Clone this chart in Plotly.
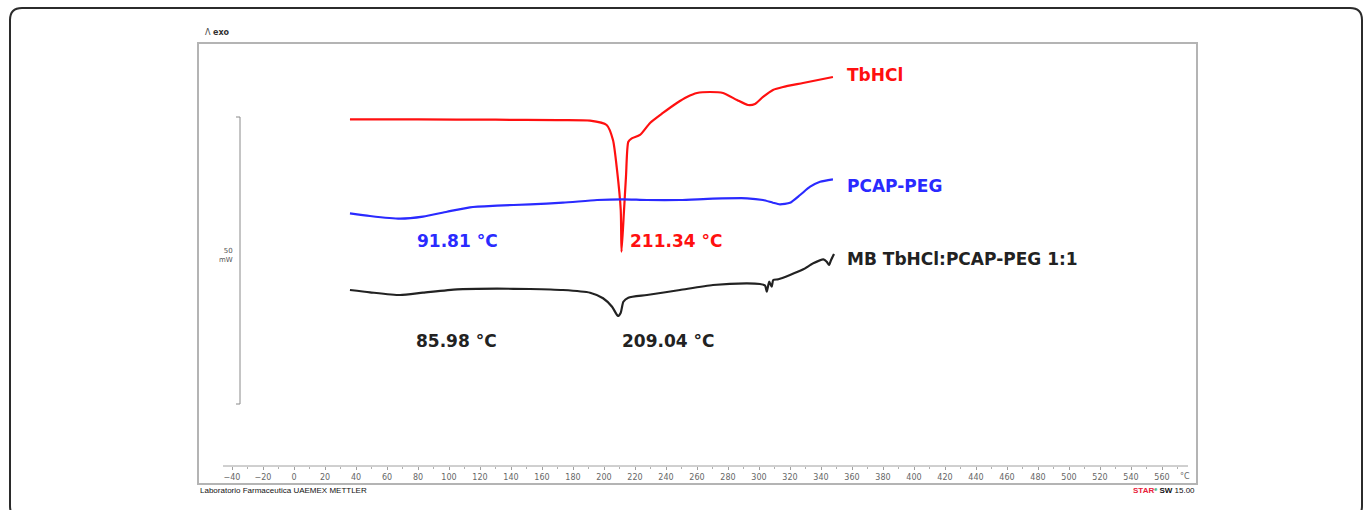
import plotly.graph_objects as go

# ---- DSC traces (temperature in °C, heat flow in mW, curves offset vertically) ----
tbhcl_T = [36.1, 80, 130, 170, 191, 201.7, 205.8, 208.4, 210.8, 211.3, 212.8, 214.2, 215.7,
           217.9, 223.2, 229.7, 238, 247, 253.5, 260, 268.4, 276.8, 285.8, 292.9, 297.4,
           302.6, 309, 315.5, 328.4, 347.7]
tbhcl_mW = [60.40, 60.38, 60.33, 60.25, 60.16, 59.41, 56.79, 51.57, 44.6, 37.33, 44.0, 50.5, 56.50,
            57.09, 57.67, 59.76, 61.50, 63.24, 64.29, 64.98, 65.16, 64.98, 63.76, 62.89, 63.07,
            64.29, 65.51, 66.03, 66.72, 67.77]

pcap_T = [36.1, 49.0, 68.4, 83.2, 98.7, 113.5, 131, 152.3, 173.5, 195.5, 212.3, 227.7, 249,
          270.3, 292.3, 302.6, 309, 313.5, 320, 326.5, 333, 339.4, 347.7]
pcap_mW = [44.02, 43.55, 43.08, 43.43, 44.30, 45.07, 45.35, 45.59, 45.87, 46.34, 46.46, 46.34, 46.34,
           46.57, 46.64, 46.34, 45.87, 45.59, 45.87, 47.21, 48.66, 49.53, 49.95]

mb_T = [36.1, 49.0, 68.4, 83.2, 105.2, 131, 152.3, 173.5, 191, 199.4, 205.2, 209.0, 210.8,
        212.5, 215.7, 227.7, 249, 270.3, 292.3, 300.6, 303.9, 305, 306, 306.6, 308.2, 309.2,
        312.5, 320, 328.6, 335, 341.5, 343.7, 345.2, 346.5, 348.4]
mb_mW = [30.66, 30.26, 29.79, 30.19, 30.78, 30.89, 30.84, 30.66, 30.19, 29.22, 27.75, 26.13, 26.71,
         28.62, 29.32, 29.79, 30.66, 31.53, 31.83, 31.71, 31.45, 30.37, 31.53, 32.11, 31.24, 32.40,
         32.53, 33.28, 34.27, 35.31, 36.01, 35.59, 35.02, 35.89, 36.93]

series_names = ["TbHCl", "PCAP-PEG", "MB TbHCl:PCAP-PEG 1:1"]
series_colors = ["#ff1010", "#2a2aff", "#222222"]

# peak temperature labels
peak_labels = ["91.81 °C", "211.34 °C", "85.98 °C", "209.04 °C"]

temp_ticks = [-40, -20, 0, 20, 40, 60, 80, 100, 120, 140, 160, 180, 200, 220, 240, 260, 280,
              300, 320, 340, 360, 380, 400, 420, 440, 460, 480, 500, 520, 540, 560]

# ---- page geometry (pixels) ----
W, H = 1372, 510
L, R, T, B = 198, 1197, 43, 466


def pxx(x):
    return (x - L) / (R - L)


def pxy(y):
    return (B - y) / (B - T)


fig = go.Figure()
for Tv, Y, name, col in zip([tbhcl_T, pcap_T, mb_T], [tbhcl_mW, pcap_mW, mb_mW],
                            series_names, series_colors):
    fig.add_trace(go.Scatter(x=Tv, y=Y, mode="lines", name=name,
                             line=dict(color=col, width=2.2, shape="spline", smoothing=0.6),
                             showlegend=False, hoverinfo="skip"))

bold = dict(family="DejaVu Sans", size=17)

# curve names at the right end of each trace
for name, col, ypx in zip(series_names, series_colors, [75, 186, 259]):
    fig.add_annotation(x=pxx(845), y=pxy(ypx), xref="paper", yref="paper",
                       text=f"<b>{name}</b>", showarrow=False, xanchor="left",
                       yanchor="middle", font=dict(color=col, **bold))

# peak temperatures
label_pos = [(457, 241, 1), (676, 241, 0), (456, 341, 2), (668, 341, 2)]
for txt, (xp, yp, ci) in zip(peak_labels, label_pos):
    fig.add_annotation(x=pxx(xp), y=pxy(yp), xref="paper", yref="paper",
                       text=f"<b>{txt}</b>", showarrow=False, xanchor="center",
                       yanchor="middle", font=dict(color=series_colors[ci], **bold))

small = dict(family="DejaVu Sans", size=8, color="#666666")

# outer rounded frame
r = 12
x0, y0, x1, y1 = 10, 8, 1362, 518
path = (f"M {pxx(x0 + r)},{pxy(y0)} L {pxx(x1 - r)},{pxy(y0)} "
        f"Q {pxx(x1)},{pxy(y0)} {pxx(x1)},{pxy(y0 + r)} "
        f"L {pxx(x1)},{pxy(y1 - r)} Q {pxx(x1)},{pxy(y1)} {pxx(x1 - r)},{pxy(y1)} "
        f"L {pxx(x0 + r)},{pxy(y1)} Q {pxx(x0)},{pxy(y1)} {pxx(x0)},{pxy(y1 - r)} "
        f"L {pxx(x0)},{pxy(y0 + r)} Q {pxx(x0)},{pxy(y0)} {pxx(x0 + r)},{pxy(y0)} Z")
shapes = [
    dict(type="path", path=path, xref="paper", yref="paper",
         line=dict(color="#2b2b2b", width=2)),
    # plot box
    dict(type="rect", xref="paper", yref="paper", x0=0, x1=1, y0=pxy(484), y1=1,
         line=dict(color="#b4b4b4", width=2)),
    # temperature axis line
    dict(type="line", xref="paper", yref="paper", x0=pxx(223), x1=pxx(1188),
         y0=0, y1=0, line=dict(color="#a0a0a0", width=1)),
    # 50 mW scale bar
    dict(type="line", xref="paper", yref="y", x0=pxx(240), x1=pxx(240),
         y0=10.8, y1=60.8, line=dict(color="#8a8a8a", width=1)),
    dict(type="line", xref="paper", yref="y", x0=pxx(236), x1=pxx(240),
         y0=60.8, y1=60.8, line=dict(color="#8a8a8a", width=1)),
    dict(type="line", xref="paper", yref="y", x0=pxx(236), x1=pxx(240),
         y0=10.8, y1=10.8, line=dict(color="#8a8a8a", width=1)),
]

fig.add_annotation(x=pxx(235), y=pxy(256), xref="paper", yref="paper",
                   text="50<br>mW", showarrow=False, xanchor="right", yanchor="middle",
                   align="right", font=dict(family="DejaVu Sans", size=7, color="#555555"))
fig.add_annotation(x=pxx(203), y=pxy(32), xref="paper", yref="paper",
                   text="<span style='color:#444444'>Λ</span> <b>exo</b>", showarrow=False,
                   xanchor="left", yanchor="middle",
                   font=dict(family="DejaVu Sans", size=8, color="#333333"))
fig.add_annotation(x=pxx(1178), y=pxy(477), xref="paper", yref="paper",
                   text="°C", showarrow=False, xanchor="left", yanchor="middle",
                   font=small)
fig.add_annotation(x=pxx(198), y=pxy(490), xref="paper", yref="paper",
                   text="Laboratorio Farmaceutica UAEMEX METTLER", showarrow=False,
                   xanchor="left", yanchor="middle",
                   font=dict(family="Liberation Sans", size=8, color="#111111"))
fig.add_annotation(x=pxx(1197), y=pxy(490), xref="paper", yref="paper",
                   text="<span style='color:#e8203a'><b>STAR</b></span>"
                        "<span style='color:#20a060'><b>ᵉ</b></span> <b>SW</b> 15.00",
                   showarrow=False, xanchor="right", yanchor="middle",
                   font=dict(family="Liberation Sans", size=8, color="#111111"))

fig.update_layout(
    width=W, height=H,
    margin=dict(l=L, r=W - R, t=T, b=H - B),
    plot_bgcolor="white", paper_bgcolor="white",
    shapes=shapes,
    xaxis=dict(range=[(L - 294) / 1.55, (R - 294) / 1.55], tickvals=temp_ticks,
               showgrid=False, zeroline=False, showline=False,
               ticks="outside", ticklen=3, tickcolor="#a0a0a0", tickwidth=1,
               tickfont=small,
               minor=dict(tickvals=[t + 10 for t in temp_ticks], ticks="outside",
                          ticklen=2, tickcolor="#b0b0b0")),
    yaxis=dict(range=[0, (B - T) / 5.74], visible=False),
)

fig.write_html("out.html")
